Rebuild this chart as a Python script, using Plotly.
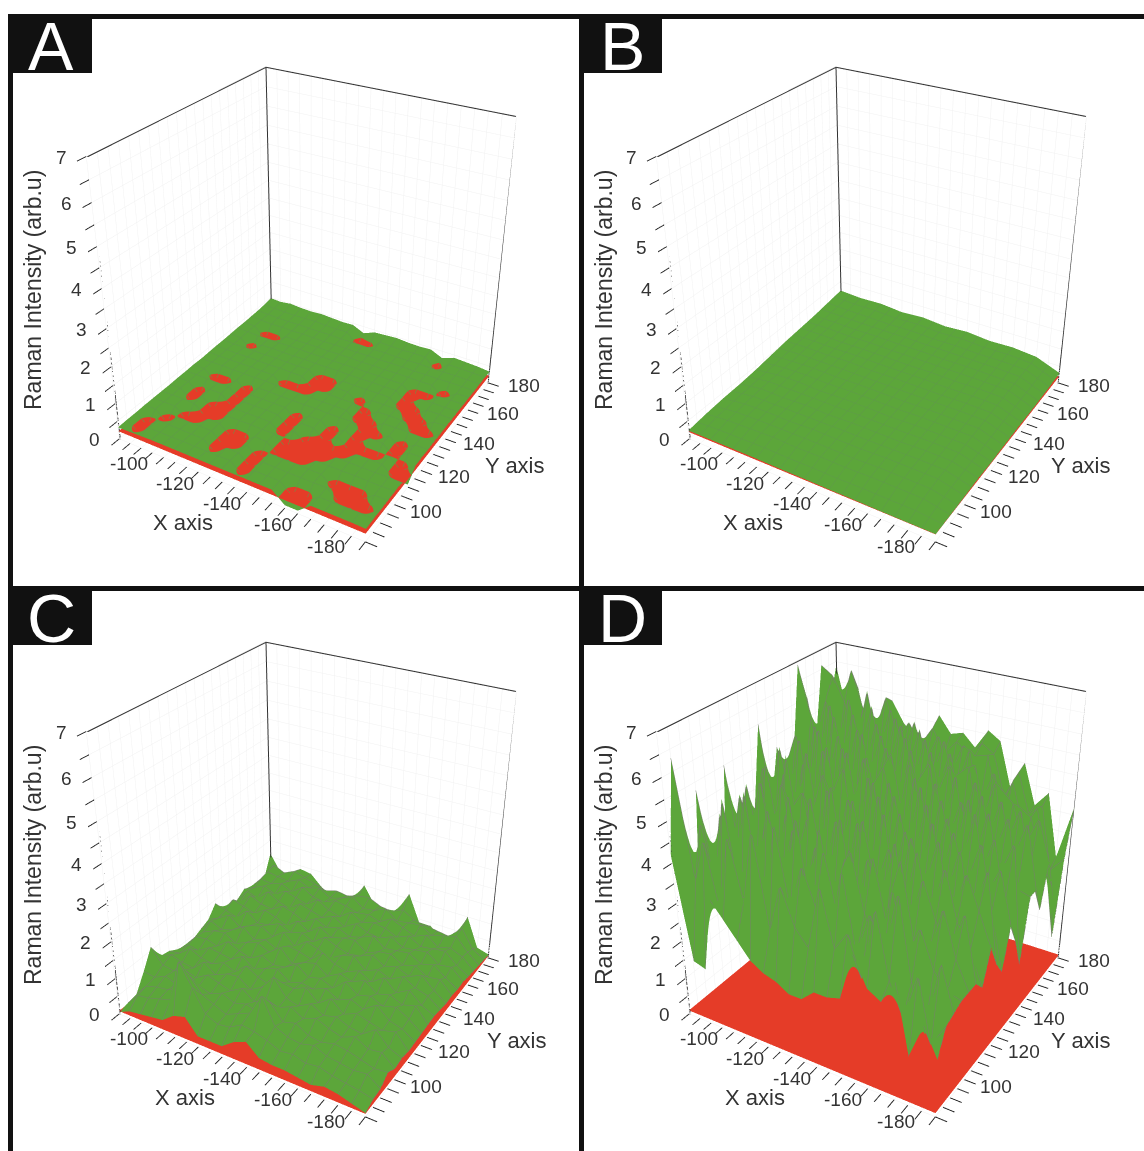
import math
import plotly.graph_objects as go

X_GRID = [-90,-95,-100,-105,-110,-115,-120,-125,-130,-135,-140,-145,-150,-155,-160,-165,-170,-175,-180,-185,-190]
Y_GRID = [90,95,100,105,110,115,120,125,130,135,140,145,150,155,160,165,170,175,180,185,190]
X_COARSE = [-90,-100,-110,-120,-130,-140,-150,-160,-170,-180,-190]
Y_COARSE = [90,100,110,120,130,140,150,160,170,180,190]
X_TWO = [-90,-190]
Y_TWO = [90,190]
X_TICKS = [-90,-95,-100,-105,-110,-115,-120,-125,-130,-135,-140,-145,-150,-155,-160,-165,-170,-175,-180,-185,-190]
X_LABELS = [-100,-120,-140,-160,-180]
Y_TICKS = [90,95,100,105,110,115,120,125,130,135,140,145,150,155,160,165,170,175,180,185,190]
Y_LABELS = [100,120,140,160,180]
Z_TICKS = [0,.5,1,1.5,2,2.5,3,3.5,4,4.5,5,5.5,6,6.5,7]
Z_LABELS = [0,1,2,3,4,5,6,7]

RED_A = [[.22,.22],[.22,.22]]
RED_B = [[.2,.2],[.2,.2]]
RED_C = [[.08,.08],[.08,.08]]
RED_D = [[.1,.1],[.1,.1]]

GREEN_A = [
[.33,.34,.35,.36,.36,.36,.36,.36,.36,.36,.36,.36,.36,.36,.08,.08,.36,.36,.36,.36,.35],
[.34,.08,.36,.36,.36,.37,.36,.36,.36,.37,.08,.36,.36,.36,.08,.08,.36,.36,.36,.37,.36],
[.34,.08,.36,.37,.36,.36,.36,.08,.36,.36,.08,.37,.36,.36,.36,.36,.37,.08,.08,.08,.36],
[.35,.36,.08,.36,.36,.37,.36,.08,.08,.36,.08,.36,.36,.37,.36,.36,.08,.08,.08,.36,.36],
[.35,.36,.36,.08,.08,.36,.36,.08,.08,.37,.36,.08,.08,.08,.36,.36,.36,.37,.36,.36,.37],
[.35,.36,.37,.36,.08,.08,.36,.36,.37,.36,.36,.08,.08,.08,.08,.36,.36,.36,.36,.37,.36],
[.35,.37,.08,.36,.08,.08,.37,.36,.36,.36,.08,.37,.08,.08,.08,.08,.36,.37,.36,.08,.08],
[.36,.36,.08,.36,.36,.08,.36,.36,.37,.36,.08,.36,.36,.08,.37,.08,.08,.08,.36,.08,.36],
[.36,.37,.36,.36,.37,.08,.36,.36,.36,.36,.08,.36,.37,.08,.36,.08,.37,.36,.08,.36,.37],
[.37,.36,.08,.08,.36,.08,.36,.37,.36,.36,.36,.37,.36,.36,.37,.08,.08,.36,.08,.36,.36],
[.36,.36,.37,.36,.36,.36,.37,.36,.36,.37,.36,.36,.36,.36,.08,.08,.36,.36,.37,.36,.37],
[.37,.36,.36,.36,.37,.36,.36,.08,.08,.08,.36,.37,.36,.36,.08,.36,.37,.36,.08,.08,.36],
[.38,.37,.36,.37,.36,.36,.37,.36,.36,.08,.08,.36,.37,.08,.36,.36,.36,.08,.08,.36,.37],
[.38,.36,.37,.36,.36,.37,.36,.36,.37,.08,.08,.37,.36,.36,.37,.36,.08,.08,.36,.37,.36],
[.39,.37,.08,.36,.37,.36,.36,.37,.36,.36,.37,.36,.36,.37,.36,.37,.08,.36,.37,.36,.37],
[.4,.38,.36,.37,.36,.37,.37,.36,.37,.36,.36,.37,.36,.37,.36,.36,.08,.08,.36,.37,.36],
[.4,.38,.08,.08,.37,.36,.37,.37,.36,.37,.37,.36,.37,.36,.37,.37,.36,.37,.08,.36,.37],
[.41,.39,.37,.38,.37,.38,.37,.36,.37,.37,.36,.37,.36,.37,.37,.36,.37,.36,.37,.37,.36],
[.42,.4,.39,.38,.39,.38,.38,.39,.37,.38,.38,.37,.38,.37,.37,.38,.37,.37,.38,.37,.36],
[.44,.42,.41,.4,.41,.42,.4,.39,.41,.08,.08,.41,.4,.39,.41,.4,.08,.4,.39,.38,.37],
[.48,.46,.5,.47,.46,.48,.46,.44,.45,.3,.43,.45,.47,.44,.43,.45,.3,.42,.4,.38,.34],
]

GREEN_B = [
[.24,.24,.24,.24,.23,.23,.22,.22,.21,.21,.21],
[.3,.36,.38,.4,.37,.38,.36,.38,.37,.36,.22],
[.34,.42,.44,.42,.45,.43,.42,.44,.43,.42,.24],
[.36,.46,.44,.47,.44,.46,.45,.44,.46,.44,.25],
[.4,.48,.5,.47,.49,.48,.46,.48,.47,.46,.24],
[.46,.5,.52,.5,.51,.5,.49,.5,.49,.48,.25],
[.52,.54,.53,.55,.52,.53,.52,.51,.52,.5,.26],
[.56,.57,.55,.56,.55,.54,.55,.53,.54,.52,.26],
[.6,.6,.58,.59,.57,.58,.56,.57,.55,.53,.26],
[.66,.63,.62,.6,.62,.59,.6,.57,.58,.55,.28],
[.72,.68,.7,.64,.68,.62,.66,.6,.62,.56,.3],
]

GREEN_C = [
[.05,.2,.25,.3,.35,.6,.7,.3,.3,.3,.55,.7,.4,.35,.35,.3,.25,.35,.3,.2,.1],
[.1,.45,.5,.6,.7,1.9,1.3,.7,.55,.6,.8,.75,.65,.5,.55,.45,.5,.4,.35,.3,.22],
[.15,.5,.6,.65,.8,1.3,.9,.75,.6,.75,.9,1.5,.8,.65,.6,.7,.55,.5,.45,.5,.25],
[.6,.55,.7,.6,.75,.8,.7,.85,.7,.8,.7,1.1,.7,.8,.6,.55,.65,.6,.5,.4,.45],
[1.1,.7,.65,.8,.7,.9,.8,.7,.9,.65,.85,.75,.9,.7,.85,.7,.6,.75,.55,.6,.3],
[.65,.8,.7,.65,.95,.7,.85,.9,.65,.85,1.25,.8,.7,.9,.7,.8,.65,.6,.85,.5,.35],
[.6,.65,.9,.75,.7,.85,.7,1.0,.8,.7,.9,.85,1.0,.7,.95,.65,.8,.7,.6,.7,.3],
[.45,.7,.65,.85,.8,.75,.95,.7,.85,.95,.7,.8,.75,.9,.7,.85,.7,.95,.65,.55,.32],
[.4,.75,.8,.7,.95,.8,.7,.9,.75,.8,1.0,.75,.85,.7,1.0,.75,.85,.7,.8,.6,.34],
[.4,.7,.85,.9,.7,.85,.95,.8,1.05,.7,.85,.95,.7,.9,.8,.95,.7,.8,.65,.75,.36],
[.5,.85,.7,.8,1.0,.75,.85,.7,.9,.85,.75,1.05,.85,.75,.9,.7,.95,.65,.85,.55,.38],
[.6,.75,.95,.7,.85,.95,.75,1.0,.7,.95,.85,.7,.9,1.0,.7,.85,.7,.9,.7,.6,.34],
[.9,.8,.7,1.0,.75,.8,.95,.8,.9,.75,1.0,.85,.75,.8,.95,.75,.85,.7,.85,.55,.3],
[.5,.95,.85,.75,.95,.85,.7,.95,.75,1.0,.8,.9,.95,.7,.85,.9,.7,.8,.6,.65,.32],
[.45,.7,1.0,.85,.8,1.0,.9,.75,.95,.8,.9,.75,.85,1.0,.75,.8,.85,.65,.75,.5,.28],
[.5,.85,.75,1.05,.85,.75,1.0,.9,.8,.95,.75,.95,.8,.75,.9,.7,.75,.8,.55,.6,.3],
[.65,.8,.95,.8,1.0,.9,.8,1.05,.85,.75,1.0,.8,.9,.85,.7,.85,.65,.7,.75,.45,.25],
[.55,.9,.85,.95,.8,1.05,.85,.8,.95,.9,.8,.85,.75,.95,.8,.65,.8,.55,.65,.5,.22],
[.5,.95,.9,.85,1.0,.85,.95,.75,.85,1.0,.75,.8,.95,.7,.75,.8,.6,.7,.8,.45,.18],
[.5,1.0,.85,1.0,.9,.8,.7,.8,.75,.85,.9,.75,.7,.85,.65,.6,.55,.5,.85,.35,.15],
[1.1,.6,.55,.9,.85,.55,.35,.3,.45,1.0,.5,.45,.55,1.15,.4,.4,.15,.25,1.0,.2,.1],
]

GREEN_D = [
[4.2,1.6,1.5,3.4,3.0,2.6,2.2,2.0,1.9,1.7,1.7,2.0,2.0,2.1,3.3,2.6,2.4,3.0,1.3,2.2,1.5],
[6.3,3.5,4.6,2.8,4.9,3.4,5.2,2.9,4.1,3.2,2.8,4.4,3.0,3.5,2.5,4.3,2.7,1.9,3.1,1.5,2.1],
[1.7,4.8,3.2,5.5,3.1,4.6,2.9,5.3,3.3,4.5,3.6,2.9,4.7,2.8,3.9,3.0,4.6,2.6,1.4,3.3,2.2],
[5.3,3.1,4.4,3.6,5.6,2.8,4.2,3.7,5.4,2.9,4.8,3.3,5.0,3.6,2.7,4.4,2.9,3.7,2.8,2.4,2.3],
[3.0,4.7,2.9,4.9,3.4,5.2,3.6,4.9,2.9,5.1,3.4,4.6,2.9,4.8,3.3,4.9,3.1,2.7,4.1,3.0,2.3],
[1.6,3.6,5.1,3.2,4.6,3.1,5.5,3.1,4.4,3.5,5.3,2.9,4.5,3.4,5.1,2.9,4.4,3.5,2.8,3.9,2.3],
[5.5,2.9,4.0,5.4,3.0,4.8,2.9,5.4,3.5,5.0,3.0,5.2,3.6,4.7,3.0,4.8,3.2,4.6,3.4,2.8,2.0],
[3.5,5.0,3.3,3.9,5.3,3.5,4.6,3.3,5.6,3.2,4.9,3.4,5.3,3.0,4.9,3.7,5.0,3.0,4.4,3.6,2.8],
[3.0,3.6,5.5,3.2,4.5,5.0,3.2,5.3,3.6,5.2,3.5,5.5,3.2,4.8,3.5,5.2,3.3,4.7,3.1,4.4,2.2],
[4.0,5.2,3.4,5.6,3.4,4.3,5.4,3.4,5.0,3.7,5.6,3.3,5.0,3.6,5.4,3.2,4.9,3.6,4.8,3.2,1.8],
[6.0,3.5,5.0,3.8,5.7,3.6,4.7,5.5,3.4,5.5,3.6,5.2,3.7,5.6,3.4,5.0,3.6,5.3,3.3,4.1,2.8],
[3.8,5.4,3.7,5.2,3.5,5.8,3.7,4.2,5.7,3.5,5.3,3.6,5.6,3.4,5.2,3.7,5.4,3.4,4.6,3.0,2.2],
[5.2,3.8,5.6,3.6,5.5,3.9,5.6,3.8,4.8,5.4,3.8,5.7,3.5,5.4,3.9,5.1,3.4,5.0,3.5,4.4,1.4],
[4.6,5.5,4.0,5.8,3.8,5.5,4.0,5.4,4.0,5.6,4.1,5.0,5.6,3.7,5.5,3.6,5.2,3.7,4.8,3.1,3.0],
[4.7,4.1,5.7,4.2,5.6,4.0,5.8,4.2,5.6,4.1,5.7,3.9,4.6,5.5,3.8,5.3,3.7,5.0,3.5,4.6,3.0],
[6.9,5.7,4.2,5.9,4.3,5.7,4.3,5.7,4.2,5.8,4.0,5.6,4.2,5.1,5.4,3.9,5.2,3.6,4.7,3.3,2.3],
[6.0,4.4,6.0,4.4,5.9,4.5,5.8,4.4,5.9,4.3,5.7,4.2,5.5,4.1,5.3,4.0,4.9,4.6,3.6,4.4,3.4],
[4.8,5.9,4.6,6.1,4.6,6.0,4.4,5.9,4.5,5.7,4.4,5.6,4.3,5.5,4.1,5.1,3.9,4.4,4.2,3.2,2.6],
[6.6,6.4,5.8,4.8,6.2,4.7,5.9,4.6,5.7,4.7,5.5,4.5,5.4,5.2,5.3,3.9,4.8,3.8,4.3,3.0,1.0],
[5.5,5.4,6.5,5.6,5.0,6.0,5.0,5.5,5.0,5.5,4.9,5.3,5.0,5.4,5.2,4.2,4.9,3.9,4.2,2.6,3.0],
[6.4,5.2,5.9,4.7,5.2,5.8,5.3,5.0,4.7,5.7,5.3,5.4,5.1,5.6,5.4,4.3,5.0,4.0,4.4,2.8,4.2],
]

PANELS = [
    ("A", X_GRID, Y_GRID, GREEN_A, RED_A, "#5f9a49"),
    ("B", X_COARSE, Y_COARSE, GREEN_B, RED_B, "#5f9a49"),
    ("C", X_GRID, Y_GRID, GREEN_C, RED_C, "#75806a"),
    ("D", X_GRID, Y_GRID, GREEN_D, RED_D, "#75806a"),
]
CENTRES = [(311, 283), (881, 283), (311, 858), (881, 858)]
PAD = 300
WIN_W, WIN_H = 1144, 1151
W, H = WIN_W + 2 * PAD, WIN_H + 2 * PAD
S = 860
GREEN = "#5ca63a"
RED = "#e53c28"
FONT = "Liberation Sans"
XR = [-90.5, -190]
YR = [90, 189.5]
ZR = [0, 7]
LIGHT = dict(ambient=1, diffuse=.1, specular=0, roughness=1, fresnel=0)
FLAT = dict(ambient=1, diffuse=0, specular=0, roughness=1, fresnel=0)

AZ = math.radians(31)
EL = math.radians(30)
DIST = 3.59
EYE = dict(x=DIST * math.cos(EL) * math.sin(AZ), y=-DIST * math.cos(EL) * math.cos(AZ), z=DIST * math.sin(EL))

def tick_note(x, y, z, s, dx, dy):
    return dict(x=x, y=y, z=z, text=str(s), showarrow=False, xshift=dx, yshift=dy,
                xanchor="center", yanchor="middle",
                font=dict(family=FONT, size=19, color="#333333"))

fig = go.Figure()
for i, (name, xs, ys, green, red, mesh) in enumerate(PANELS):
    sid = "scene" if i == 0 else f"scene{i+1}"
    fig.add_trace(go.Surface(x=X_TWO, y=Y_TWO, z=red, scene=sid, showscale=False,
                             colorscale=[[0, RED], [1, RED]], lighting=FLAT, hoverinfo="skip"))
    fig.add_trace(go.Surface(x=xs, y=ys, z=green, scene=sid, showscale=False,
                             colorscale=[[0, GREEN], [1, GREEN]], lighting=LIGHT, hoverinfo="skip",
                             contours=dict(
                                 x=dict(show=True, start=-190, end=-90, size=5, color=mesh, width=1),
                                 y=dict(show=True, start=90, end=190, size=5, color=mesh, width=1))))
    fx = [XR[0], XR[0], XR[0], XR[1], XR[1], None, XR[0], XR[0]]
    fy = [YR[0], YR[0], YR[1], YR[1], YR[1], None, YR[1], YR[1]]
    fz = [ZR[0], ZR[1], ZR[1], ZR[1], ZR[0], None, ZR[0], ZR[1]]
    fig.add_trace(go.Scatter3d(x=fx, y=fy, z=fz, mode="lines", scene=sid, hoverinfo="skip",
                               line=dict(color="#333333", width=2), showlegend=False))
    ax = dict(showbackground=True, backgroundcolor="white", gridcolor="#f1f1f1", gridwidth=1,
              zeroline=False, showspikes=False, title=dict(text=""),
              ticks="outside", ticklen=10, tickcolor="#222222", tickwidth=2, tickangle=0,
              showticklabels=False, showline=False, tickmode="array")
    notes = ([tick_note(v, 90, 0, v, -12, -16) for v in X_LABELS]
             + [tick_note(-190, v, 0, v, 46, 11) for v in Y_LABELS]
             + [tick_note(-90, 90, v, v, -25, -1) for v in Z_LABELS])
    cx, cy = CENTRES[i]
    fig.update_layout({sid: dict(
        domain=dict(x=[(PAD + cx - S / 2) / W, (PAD + cx + S / 2) / W],
                    y=[1 - (PAD + cy + S / 2) / H, 1 - (PAD + cy - S / 2) / H]),
        xaxis=dict(ax, range=[-90, -190], tickvals=X_TICKS),
        yaxis=dict(ax, range=[90, 190], tickvals=Y_TICKS),
        zaxis=dict(ax, range=[0, 7], tickvals=Z_TICKS),
        aspectmode="manual", aspectratio=dict(x=1, y=1, z=1.09),
        camera=dict(eye=EYE, center=dict(x=0, y=0, z=0), projection=dict(type="perspective")),
        annotations=notes,
    )})

shapes = []
def rect(x0, y0, x1, y1, c="#111111"):
    shapes.append(dict(type="rect", xref="paper", yref="paper",
                       x0=(x0 + PAD) / W, x1=(x1 + PAD) / W, y0=1 - (y0 + PAD) / H, y1=1 - (y1 + PAD) / H,
                       fillcolor=c, line=dict(width=0), layer="above"))
BORDERS = [(8, 14, 1144, 19), (8, 14, 13, 1151), (579, 14, 584, 1151), (8, 586, 1144, 591),
           (8, 14, 92, 73), (579, 14, 662, 73), (8, 586, 92, 645), (579, 586, 662, 645)]
for b in BORDERS:
    rect(*b)

ann = []
def text(px, py, s, size=20, angle=0, color="#333333"):
    ann.append(dict(xref="paper", yref="paper", x=(px + PAD) / W, y=1 - (py + PAD) / H, text=s, showarrow=False,
                    font=dict(family=FONT, size=size, color=color), textangle=angle,
                    xanchor="center", yanchor="middle"))
LETTER_POS = [(51, 46), (622, 46), (51, 618), (622, 618)]
for (name, *_), (px, py) in zip(PANELS, LETTER_POS):
    text(px, py, name, size=68, color="white")
for px, py in [(33, 290), (604, 290), (33, 865), (604, 865)]:
    text(px, py, "Raman Intensity (arb.u)", size=23, angle=-90)
for px, py in [(183, 522), (753, 522), (185, 1097), (755, 1097)]:
    text(px, py, "X axis", size=22)
for px, py in [(515, 465), (1081, 465), (517, 1040), (1081, 1040)]:
    text(px, py, "Y axis", size=22)

fig.update_layout(width=W, height=H, margin=dict(l=0, r=0, t=0, b=0), paper_bgcolor="white",
                  showlegend=False, shapes=shapes, annotations=ann)
fig.write_html("out.html", config=dict(displayModeBar=False),
               post_script=f"document.body.style.margin='-{PAD}px 0 0 -{PAD}px';document.documentElement.style.overflow='hidden';document.body.style.overflow='hidden';")
